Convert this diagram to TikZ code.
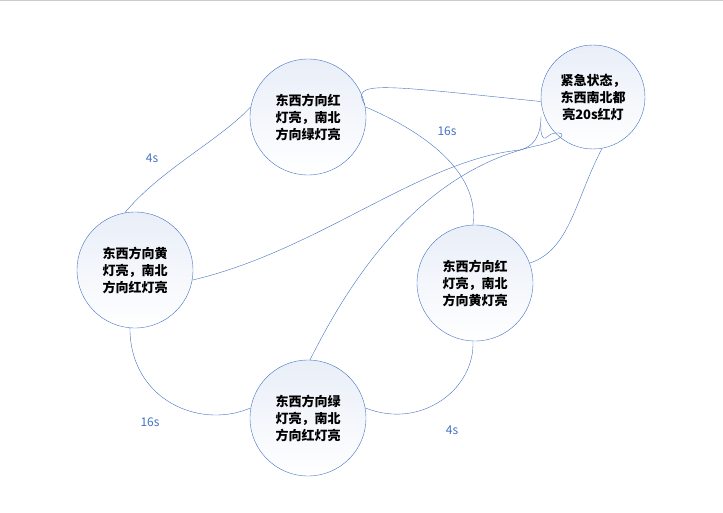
\documentclass[tikz,border=0pt]{standalone}
\usepackage{fontspec}
\setmainfont{Noto Sans CJK SC}
\usetikzlibrary{positioning}
\definecolor{linkblue}{RGB}{68,114,196}
\tikzset{state node/.style={circle,draw=linkblue,minimum size=116pt,inner sep=0pt,
    top color=linkblue!12,bottom color=white,align=center,font=\bfseries\fontsize{13}{17}\selectfont},
  link/.style={draw=linkblue,thin},
  delay/.style={text=linkblue,font=\fontsize{12}{14}\selectfont}}
\begin{document}
\begin{tikzpicture}[x=1pt,y=-1pt]
  \useasboundingbox (0,0) rectangle (723,513);
  \draw[gray!40] (0,0.5) -- (723,0.5);

  \node[state node] (ns) at (308,117) {东西方向红\\灯亮，南北\\方向绿灯亮};
  \node[state node,minimum size=104pt] (emg) at (593,97) {紧急状态，\\东西南北都\\亮20s红灯};
  \node[state node] (ew) at (135,270) {东西方向黄\\灯亮，南北\\方向红灯亮};
  \node[state node] (nsy) at (475,283) {东西方向红\\灯亮，南北\\方向黄灯亮};
  \node[state node] (ewg) at (308,418) {东西方向绿\\灯亮，南北\\方向红灯亮};

  \path[link] (ew.100) .. controls (160,170) and (220,140) .. (ns.170);
  \path[link] (ns.10) .. controls (420,130) and (480,170) .. (nsy.92);
  \path[link] (nsy.268) .. controls (475,390) and (420,430) .. (ewg.10);
  \path[link] (ewg.170) .. controls (200,430) and (130,400) .. (ew.265);
  \path[link] (ns.12) .. controls (350,80) and (380,85) .. (emg.185);
  \path[link] (ew.350) .. controls (320,250) and (420,160) .. (520,150) .. controls (540,145) and (541,125) .. (541,116);
  \path[link] (ewg.88) .. controls (350,280) and (420,170) .. (540,145) .. controls (580,135) and (555,128) .. (547,137) .. controls (542,142) and (540,130) .. (541,125);
  \path[link] (nsy.20) .. controls (570,250) and (575,200) .. (emg.280);

  \node[delay] (d1) at (152,158) {4s};
  \node[delay] (d2) at (447,131) {16s};
  \node[delay] (d3) at (452,430) {4s};
  \node[delay] (d4) at (150,422) {16s};
\end{tikzpicture}
\end{document}
